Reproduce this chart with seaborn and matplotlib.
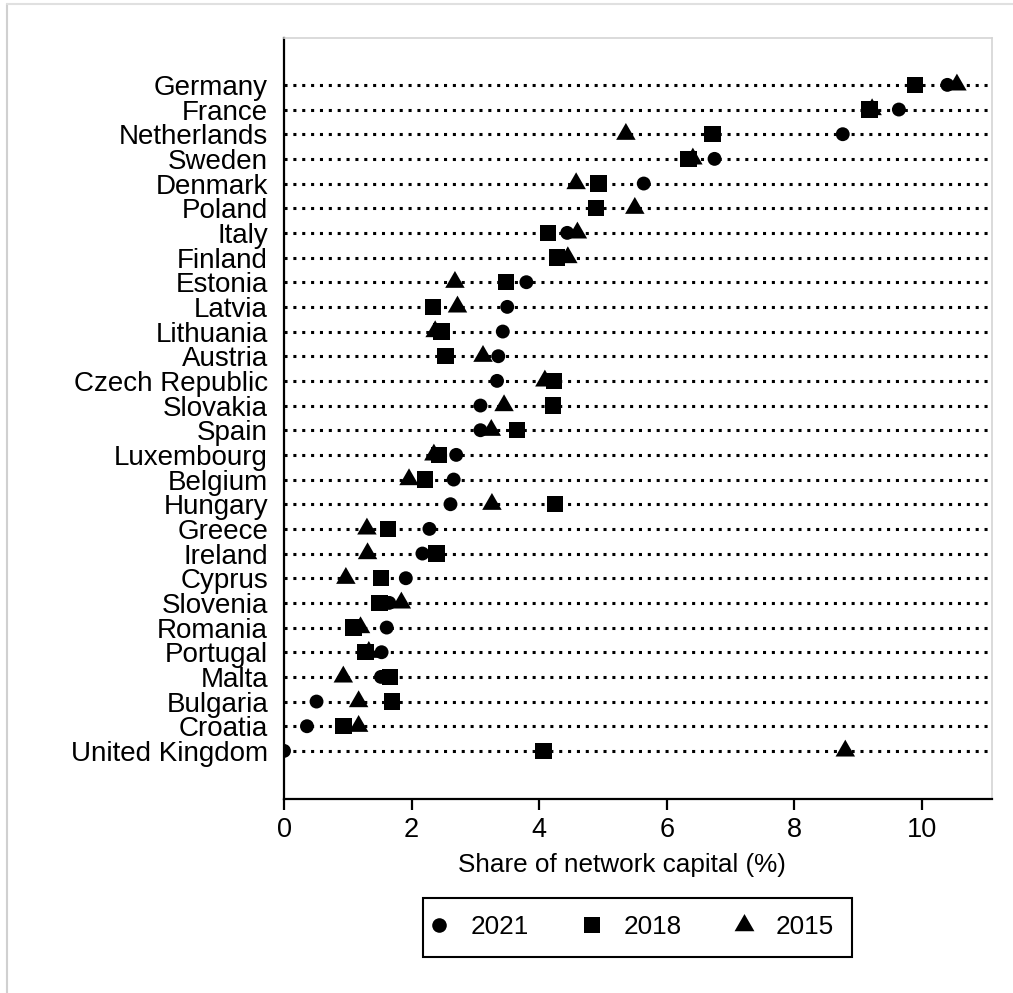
import numpy as np
import pandas as pd
import matplotlib
matplotlib.use("Agg")
import matplotlib.pyplot as plt
from matplotlib.path import Path
from matplotlib.lines import Line2D
from matplotlib.patches import Rectangle
import seaborn as sns

# Country order (top to bottom)
countries = ["Germany", "France", "Netherlands", "Sweden", "Denmark", "Poland",
             "Italy", "Finland", "Estonia", "Latvia", "Lithuania", "Austria",
             "Czech Republic", "Slovakia", "Spain", "Luxembourg", "Belgium",
             "Hungary", "Greece", "Ireland", "Cyprus", "Slovenia", "Romania",
             "Portugal", "Malta", "Bulgaria", "Croatia", "United Kingdom"]

# Share of network capital (%) by year
share_2021 = [10.40, 9.64, 8.76, 6.75, 5.64, 4.88, 4.44, 4.30, 3.80, 3.50,
              3.43, 3.36, 3.34, 3.08, 3.08, 2.70, 2.66, 2.61, 2.28, 2.17,
              1.91, 1.65, 1.61, 1.53, 1.52, 0.51, 0.36, 0.00]
share_2018 = [9.89, 9.18, 6.72, 6.34, 4.93, 4.89, 4.14, 4.28, 3.48, 2.34,
              2.47, 2.53, 4.23, 4.22, 3.65, 2.43, 2.21, 4.25, 1.63, 2.39,
              1.52, 1.50, 1.09, 1.28, 1.66, 1.69, 0.93, 4.07]
share_2015 = [10.55, 9.22, 5.36, 6.41, 4.58, 5.50, 4.60, 4.45, 2.68, 2.72,
              2.37, 3.12, 4.09, 3.45, 3.25, 2.35, 1.96, 3.26, 1.30, 1.31,
              0.97, 1.84, 1.20, 1.33, 0.93, 1.17, 1.17, 8.80]

years = ["2021", "2018", "2015"]
x_ticks = [0, 2, 4, 6, 8, 10]

# Triangle centred on its centroid
tri_verts = [(0.0, 0.577), (-0.5, -0.289), (0.5, -0.289), (0.0, 0.577)]
triangle = Path(tri_verts, [Path.MOVETO, Path.LINETO, Path.LINETO, Path.CLOSEPOLY])

marker_styles = {"2021": ("o", 100), "2018": ("s", 139), "2015": (triangle, 262)}

sns.set_theme(style="white")
plt.rcParams["font.family"] = ["Liberation Sans", "DejaVu Sans"]
plt.rcParams["text.color"] = "black"
plt.rcParams["axes.labelcolor"] = "black"
plt.rcParams["xtick.color"] = "black"
plt.rcParams["ytick.color"] = "black"

df = pd.DataFrame({
    "country": countries * 3,
    "share": share_2021 + share_2018 + share_2015,
    "year": sum([[y] * len(countries) for y in years], []),
})

W, H = 1013, 993
fig = plt.figure(figsize=(W / 100, H / 100), dpi=100)
ax = fig.add_axes([284 / W, 1 - 799 / H, (992 - 284) / W, (799 - 38) / H])

for yr in years:
    mk, s = marker_styles[yr]
    sns.scatterplot(data=df[df["year"] == yr], x="share", y="country",
                    marker=mk, s=s, color="black", linewidth=0,
                    edgecolor="none", label=yr, ax=ax, legend=False, zorder=3)

ax.set_xlim(0, 11.1)
ax.set_ylim(len(countries) - 1 + 1.95, -1.9)
ax.set_xticks(x_ticks)
ax.set_xticklabels([str(t) for t in x_ticks])

# Dotted row guides
ax.set_axisbelow(True)
ax.grid(axis="y", color="black", linewidth=2.2, linestyle=(0, (1, 1.9)))
ax.grid(axis="x", visible=False)

for side in ["left", "bottom"]:
    ax.spines[side].set_color("black")
    ax.spines[side].set_linewidth(1.6)
for side in ["top", "right"]:
    ax.spines[side].set_color("#d4d4d4")
    ax.spines[side].set_linewidth(1.2)

ax.tick_params(axis="x", direction="out", length=8, width=1.6, color="black",
               labelsize=19.5, pad=5, bottom=True, labelcolor="black")
ax.tick_params(axis="y", length=0, labelsize=20, pad=11.5, left=False,
               labelcolor="black")
ax.set_ylabel("")
ax.set_xlabel("Share of network capital (%)", fontsize=18.8, color="black")
ax.xaxis.set_label_coords(0.478, -0.071)

# Legend: entries without frame, boxed by a separate rectangle
handles = [
    Line2D([], [], linestyle="none", marker="o", markersize=10.5, color="black", markeredgewidth=0),
    Line2D([], [], linestyle="none", marker="s", markersize=11.8, color="black", markeredgewidth=0),
    Line2D([], [], linestyle="none", marker=triangle, markersize=16.5, color="black", markeredgewidth=0),
]
leg = fig.legend(handles, years, loc="center", ncol=3,
                 bbox_to_anchor=(632.6 / W, 1 - 927.5 / H),
                 frameon=False, fontsize=18.8, handlelength=0.6,
                 handletextpad=0.92, columnspacing=2.1, borderpad=0.0)
for t in leg.get_texts():
    t.set_color("black")
fig.add_artist(Rectangle((423 / W, 1 - 957 / H), 429 / W, 59 / H, fill=False,
                         edgecolor="black", linewidth=1.5,
                         transform=fig.transFigure))

# Outer graph-region border (left and top edges)
fig.add_artist(Line2D([7 / W, 7 / W], [0, 1 - 4 / H], color="#d0d0d0",
                      linewidth=1.5, transform=fig.transFigure))
fig.add_artist(Line2D([7 / W, 1], [1 - 4 / H, 1 - 4 / H], color="#e0e0e0",
                      linewidth=1.5, transform=fig.transFigure))

fig.savefig("out.png", dpi=100, facecolor="white")
